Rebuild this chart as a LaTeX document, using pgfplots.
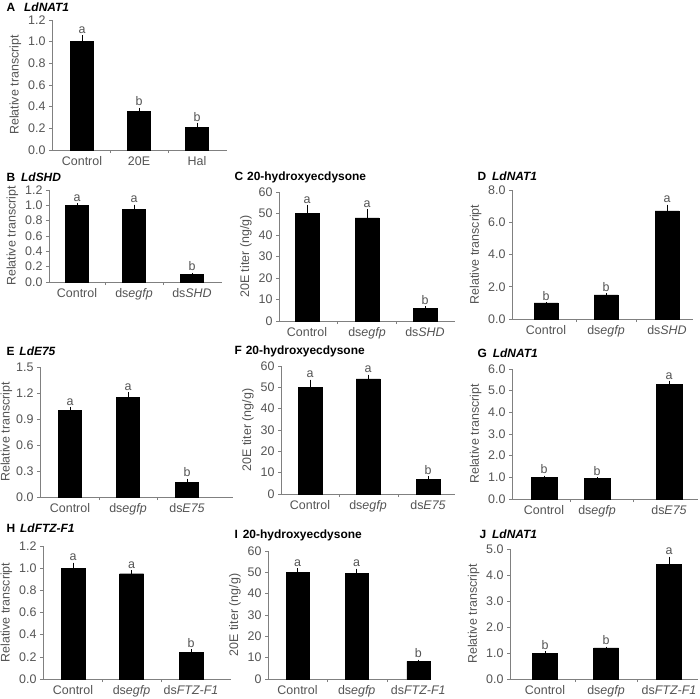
\documentclass[border=0pt]{standalone}
\usepackage{pgfplots}
\pgfplotsset{compat=1.18}
\usepackage{fontspec}
\setmainfont{Liberation Sans}
\definecolor{axc}{gray}{0.5}
\definecolor{txc}{gray}{0.33}
\newcommand{\fs}{\fontsize{12.5}{14}\selectfont}
\newcommand{\ft}{\fontsize{12}{14}\selectfont\bfseries}
\pgfplotsset{
 panel/.style={
  scale only axis, anchor=south west,
  axis x line*=bottom, axis y line*=left,
  axis line style={draw=axc, line width=0.6bp},
  xmin=0, ymin=0,
  tick align=outside,
  major tick length=3bp, minor tick length=3bp,
  major x tick style={draw=none},
  minor x tick style={draw=axc, line width=0.6bp},
  ytick style={draw=axc, line width=0.6bp},
  tick label style={font=\fs, text=txc},
  ylabel style={font=\fs, text=txc},
  /pgf/number format/assume math mode=true,
  clip=false,
 },
 dec/.style={yticklabel style={/pgf/number format/.cd, fixed, fixed zerofill, precision=1}},
 int/.style={yticklabel style={/pgf/number format/.cd, fixed, precision=0}},
 bars/.style={ybar, bar shift=0pt, fill=black, draw=black, bar width=#1,
   error bars/.cd, y dir=plus, y explicit, error mark=none,
   error bar style={black, line width=0.8bp}},
 letters/.style={only marks, mark=*, mark size=0pt, mark options={draw=none,fill=none},
   nodes near coords, point meta=explicit symbolic,
   nodes near coords style={font=\fs, text=txc, anchor=south, inner sep=1.5bp}},
}
\begin{document}
\begin{tikzpicture}
\useasboundingbox (0,0) rectangle (700bp,-699bp);
% ---------- A ----------
\node[anchor=base west, font=\ft] at (3bp,-11bp) {A\hspace{9bp}\textit{LdNAT1}};
\begin{axis}[panel, dec, at={(52bp,-150bp)}, width=175bp, height=130bp,
  xmax=175, ymax=1.2, ytick={0,0.2,0.4,0.6,0.8,1.0,1.2},
  xtick={30,87,145}, xticklabels={Control,20E,Hal}, minor xtick={58.5,116},
  ylabel={Relative transcript}]
\addplot[bars=23bp] coordinates {(30,1.0) +- (0,0.06) (87,0.36) +- (0,0.03) (145,0.21) +- (0,0.04)};
\addplot[letters] coordinates {(30,1.06) [a] (87,0.39) [b] (145,0.25) [b]};
\end{axis}
% ---------- B ----------
\node[anchor=base west, font=\ft] at (3bp,-181bp) {B\hspace{6bp}\textit{LdSHD}};
\begin{axis}[panel, dec, at={(49bp,-282bp)}, width=173bp, height=92bp,
  xmax=173, ymax=1.2, ytick={0,0.2,0.4,0.6,0.8,1.0,1.2},
  xtick={28,85,143}, xticklabels={Control,ds\textit{egfp},ds\textit{SHD}}, minor xtick={56.5,114},
  ylabel={Relative transcript}]
\addplot[bars=23bp] coordinates {(28,1.0) +- (0,0.03) (85,0.95) +- (0,0.06) (143,0.10) +- (0,0.02)};
\addplot[letters] coordinates {(28,1.03) [a] (85,1.01) [a] (143,0.12) [b]};
\end{axis}
% ---------- C ----------
\node[anchor=base west, font=\ft] at (231bp,-180bp) {C\hspace{4bp}20-hydroxyecdysone};
\begin{axis}[panel, int, at={(279bp,-321bp)}, width=176bp, height=129bp,
  xmax=176, ymax=60, ytick={0,10,20,30,40,50,60},
  xtick={28,88,146}, xticklabels={Control,ds\textit{egfp},ds\textit{SHD}}, minor xtick={58,117},
  ylabel={20E titer (ng/g)}]
\addplot[bars=24bp] coordinates {(28,50) +- (0,4) (88,48) +- (0,4) (146,6) +- (0,0.8)};
\addplot[letters] coordinates {(28,54) [a] (88,52) [a] (146,6.8) [b]};
\end{axis}
% ---------- D ----------
\node[anchor=base west, font=\ft] at (474bp,-180bp) {D\hspace{6bp}\textit{LdNAT1}};
\begin{axis}[panel, dec, at={(512bp,-319bp)}, width=181bp, height=129bp,
  xmax=181, ymax=8, ytick={0,2,4,6,8},
  xtick={34,94,155}, xticklabels={Control,ds\textit{egfp},ds\textit{SHD}}, minor xtick={64,124.5},
  ylabel={Relative transcript}]
\addplot[bars=24bp] coordinates {(34,1.0) +- (0,0.04) (94,1.5) +- (0,0.1) (155,6.7) +- (0,0.4)};
\addplot[letters] coordinates {(34,1.04) [b] (94,1.6) [b] (155,7.1) [a]};
\end{axis}
% ---------- E ----------
\node[anchor=base west, font=\ft] at (3bp,-355bp) {E\hspace{5bp}\textit{LdE75}};
\begin{axis}[panel, dec, at={(40bp,-497bp)}, width=193bp, height=130bp,
  xmax=193, ymax=1.5, ytick={0,0.3,0.6,0.9,1.2,1.5},
  xtick={30,88,147}, xticklabels={Control,ds\textit{egfp},ds\textit{E75}}, minor xtick={59,117.5},
  ylabel={Relative transcript}, ylabel style={at={(ticklabel cs:0.5,-3bp)}}]
\addplot[bars=23bp] coordinates {(30,1.0) +- (0,0.04) (88,1.15) +- (0,0.06) (147,0.17) +- (0,0.04)};
\addplot[letters] coordinates {(30,1.04) [a] (88,1.21) [a] (147,0.21) [b]};
\end{axis}
% ---------- F ----------
\node[anchor=base west, font=\ft] at (231bp,-354bp) {F\hspace{4bp}20-hydroxyecdysone};
\begin{axis}[panel, int, at={(281bp,-494bp)}, width=174bp, height=128bp,
  xmax=174, ymax=60, ytick={0,10,20,30,40,50,60},
  xtick={29,87,147}, xticklabels={Control,ds\textit{egfp},ds\textit{E75}}, minor xtick={58,117},
  ylabel={20E titer (ng/g)}]
\addplot[bars=24bp] coordinates {(29,50) +- (0,3.6) (87,54) +- (0,2) (147,7) +- (0,1.4)};
\addplot[letters] coordinates {(29,53.6) [a] (87,56) [a] (147,8.4) [b]};
\end{axis}
% ---------- G ----------
\node[anchor=base west, font=\ft] at (474bp,-357bp) {G\hspace{6bp}\textit{LdNAT1}};
\begin{axis}[panel, dec, at={(512bp,-499bp)}, width=186bp, height=130bp,
  xmax=186, ymax=6, ytick={0,1,2,3,4,5,6},
  xtick={32,85,157}, xticklabels={Control,ds\textit{egfp},ds\textit{E75}}, minor xtick={58.5,121},
  ylabel={Relative transcript}]
\addplot[bars=26bp] coordinates {(32,1.0) +- (0,0.08) (85,0.95) +- (0,0.05) (157,5.3) +- (0,0.15)};
\addplot[letters] coordinates {(32,1.08) [b] (85,1.0) [b] (157,5.45) [a]};
\end{axis}
% ---------- H ----------
\node[anchor=base west, font=\ft] at (3bp,-532bp) {H\hspace{5bp}\textit{LdFTZ-F1}};
\begin{axis}[panel, dec, at={(43bp,-679bp)}, width=188bp, height=133bp,
  xmax=188, ymax=1.2, ytick={0,0.2,0.4,0.6,0.8,1.0,1.2},
  xtick={30,88.5,148}, xticklabels={Control,ds\textit{egfp},ds\textit{FTZ-F1}}, minor xtick={59,118},
  ylabel={Relative transcript}]
\addplot[bars=24bp] coordinates {(30,1.0) +- (0,0.05) (88.5,0.95) +- (0,0.03) (148,0.24) +- (0,0.03)};
\addplot[letters] coordinates {(30,1.05) [a] (88.5,0.98) [a] (148,0.27) [b]};
\end{axis}
% ---------- I ----------
\node[anchor=base west, font=\ft] at (231bp,-538bp) {I\hspace{5bp}20-hydroxyecdysone};
\begin{axis}[panel, int, at={(268bp,-679bp)}, width=162bp, height=128bp,
  xmax=162, ymax=60, ytick={0,10,20,30,40,50,60},
  xtick={29.5,88.7,150.3}, xticklabels={Control,ds\textit{egfp},ds\textit{FTZ-F1}}, minor xtick={59,119.5},
  ylabel={20E titer (ng/g)}]
\addplot[bars=23bp] coordinates {(29.5,50) +- (0,2) (88.7,49.5) +- (0,2.2) (150.3,8.3) +- (0,0.8)};
\addplot[letters] coordinates {(29.5,52) [a] (88.7,51.7) [a] (150.3,9.1) [b]};
\end{axis}
% ---------- J ----------
\node[anchor=base west, font=\ft] at (476bp,-538bp) {J\hspace{6bp}\textit{LdNAT1}};
\begin{axis}[panel, dec, at={(510bp,-679bp)}, width=188bp, height=130bp,
  xmax=188, ymax=5, ytick={0,1,2,3,4,5},
  xtick={35,96,159}, xticklabels={Control,ds\textit{egfp},ds\textit{FTZ-F1}}, minor xtick={65.5,127.5},
  ylabel={Relative transcript}]
\addplot[bars=25bp] coordinates {(35,1.0) +- (0,0.06) (96,1.2) +- (0,0.05) (159,4.4) +- (0,0.3)};
\addplot[letters] coordinates {(35,1.06) [b] (96,1.25) [b] (159,4.7) [a]};
\end{axis}
\end{tikzpicture}
\end{document}
